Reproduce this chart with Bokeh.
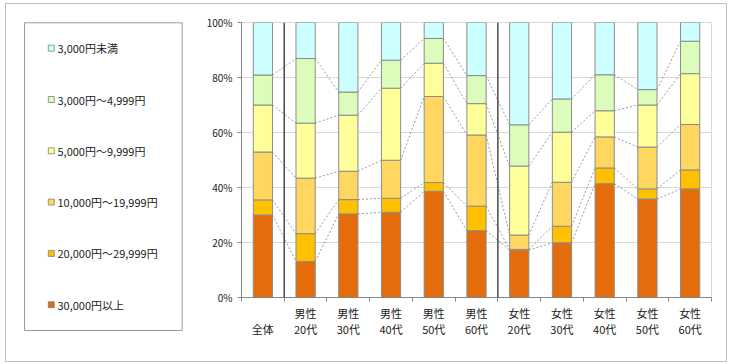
from bokeh.plotting import figure
from bokeh.models import Range1d, FixedTicker, PrintfTickFormatter, Span, ColumnDataSource
from bokeh.layouts import row
from bokeh.embed import file_html
from bokeh.resources import INLINE
from bokeh.core.properties import value

# ---------------- data ----------------
categories = ["全体", "男性20代", "男性30代", "男性40代", "男性50代", "男性60代",
              "女性20代", "女性30代", "女性40代", "女性50代", "女性60代"]
tick_labels = [" \n全体", "男性\n20代", "男性\n30代", "男性\n40代", "男性\n50代", "男性\n60代",
               "女性\n20代", "女性\n30代", "女性\n40代", "女性\n50代", "女性\n60代"]
group_sizes = [1, 5, 5]

series_names = ["30,000円以上", "20,000円～29,999円", "10,000円～19,999円",
                "5,000円～9,999円", "3,000円～4,999円", "3,000円未満"]
v_30000_plus = [30.0, 13.1, 30.4, 31.0, 38.6, 24.3, 17.3, 19.9, 41.4, 35.8, 39.5]
v_20000_29999 = [5.5, 10.1, 5.2, 5.1, 3.2, 8.9, 0.2, 6.0, 5.7, 3.7, 6.9]
v_10000_19999 = [17.4, 20.2, 10.3, 13.8, 31.3, 25.9, 5.2, 16.0, 11.3, 15.2, 16.5]
v_5000_9999 = [17.1, 20.0, 20.4, 26.2, 12.1, 11.4, 25.1, 18.2, 9.5, 15.3, 18.5]
v_3000_4999 = [10.9, 23.5, 8.4, 10.2, 9.0, 10.2, 15.0, 12.1, 13.1, 5.6, 11.8]
v_under_3000 = [19.1, 13.1, 25.3, 13.7, 5.8, 19.3, 37.2, 27.8, 19.0, 24.4, 6.8]

y_ticks = [0, 20, 40, 60, 80, 100]

colors = ["#E46C0A", "#FFC000", "#FFD65F", "#FFFF99", "#DCFCBB", "#CCFFFF"]
FONT = "Noto Sans CJK JP"

series = [v_30000_plus, v_20000_29999, v_10000_19999, v_5000_9999, v_3000_4999, v_under_3000]
n = len(categories)
xs = [i + 0.5 for i in range(n)]
keys = ["s%d" % i for i in range(len(series))]
data = {"x": xs}
for k, s in zip(keys, series):
    data[k] = s
src = ColumnDataSource(data)

BAR_W = 0.45

# ---------------- main chart ----------------
p = figure(width=523, height=357, x_range=Range1d(0, n), y_range=Range1d(0, 100),
           output_backend="svg", toolbar_location=None,
           min_border_left=37, min_border_right=15, min_border_top=18, min_border_bottom=64)
p.frame_align = False
p.background_fill_color = "white"
p.border_fill_color = "white"
p.outline_line_color = "#d9d9d9"

p.xgrid.visible = False
p.ygrid.ticker = FixedTicker(ticks=y_ticks)
p.ygrid.grid_line_color = "#d9d9d9"
p.ygrid.grid_line_width = 1

# connectors (dashed) between adjacent bars at cumulative levels
cum = []
running = [0.0] * n
for s in series[:-1]:
    running = [a + b for a, b in zip(running, s)]
    cum.append(list(running))
for lvl in cum:
    x0 = [xs[i] + BAR_W / 2 for i in range(n - 1)]
    x1 = [xs[i + 1] - BAR_W / 2 for i in range(n - 1)]
    y0 = [lvl[i] for i in range(n - 1)]
    y1 = [lvl[i + 1] for i in range(n - 1)]
    p.segment(x0=x0, y0=y0, x1=x1, y1=y1, line_color="#7f7f7f", line_dash="2 2", line_width=0.8)

p.vbar_stack(keys, x="x", width=BAR_W, fill_color=colors, line_color="#8c8c8c",
             line_width=1, source=src)

# group separators
b = 0
for g in group_sizes[:-1]:
    b += g
    p.add_layout(Span(location=b, dimension="height", line_color="#4a4a4a", line_width=1.5))

# y axis
p.yaxis.ticker = FixedTicker(ticks=y_ticks)
p.yaxis.formatter = PrintfTickFormatter(format="%d%%")
p.yaxis.axis_line_color = "#868686"
p.yaxis.major_tick_line_color = "#868686"
p.yaxis.major_tick_out = 4
p.yaxis.major_tick_in = 0
p.yaxis.minor_tick_line_color = None
p.yaxis.major_label_text_font = FONT
p.yaxis.major_label_text_font_size = "10px"
p.yaxis.major_label_text_color = "#222222"
p.yaxis.major_label_standoff = 5

# x axis: ticks at boundaries, labels at centres
p.xaxis.ticker = FixedTicker(ticks=xs, minor_ticks=list(range(n + 1)))
p.xaxis.major_label_overrides = {x: lab for x, lab in zip(xs, tick_labels)}
p.xaxis.axis_line_color = "#868686"
p.xaxis.major_tick_out = 0
p.xaxis.major_tick_in = 0
p.xaxis.minor_tick_out = 4
p.xaxis.minor_tick_in = 0
p.xaxis.minor_tick_line_color = "#868686"
p.xaxis.major_label_text_font = FONT
p.xaxis.major_label_text_font_size = "11px"
p.xaxis.major_label_text_color = "#222222"
p.xaxis.major_label_text_line_height = 1.0
p.xaxis.major_label_standoff = 3
p.xaxis.major_label_orientation = "horizontal"

# ---------------- legend panel ----------------
LW, LH = 197, 357
lg = figure(width=LW, height=LH, x_range=Range1d(0, LW), y_range=Range1d(LH, 0),
            output_backend="svg", toolbar_location=None,
            min_border=0, min_border_left=0, min_border_right=0, min_border_top=0, min_border_bottom=0)
lg.frame_align = False
lg.axis.visible = False
lg.grid.visible = False
lg.outline_line_color = None
lg.background_fill_color = "white"
lg.border_fill_color = "white"

lg.quad(left=18, right=175.7, top=18.3, bottom=326, fill_color=None, line_color="#9a9a9a", line_width=1)

order = list(range(len(series_names)))[::-1]  # top: 3,000円未満
item_y = [43.7 + 51.3 * i for i in range(len(order))]
lg.rect(x=[44.8] * len(order), y=item_y, width=6, height=6,
        fill_color=[colors[k] for k in order], line_color="#7f7f7f", line_width=0.8)
lg.text(x=[51] * len(order), y=item_y, text=[series_names[k] for k in order],
        text_font=value(FONT), text_font_size="11px", text_baseline="middle",
        text_align="left", text_color="#222222")

layout = row(lg, p, styles={"border": "1px solid #bfbfbf", "margin": "3px 0 0 5px"})

open("out.html", "w").write(file_html(layout, INLINE))
